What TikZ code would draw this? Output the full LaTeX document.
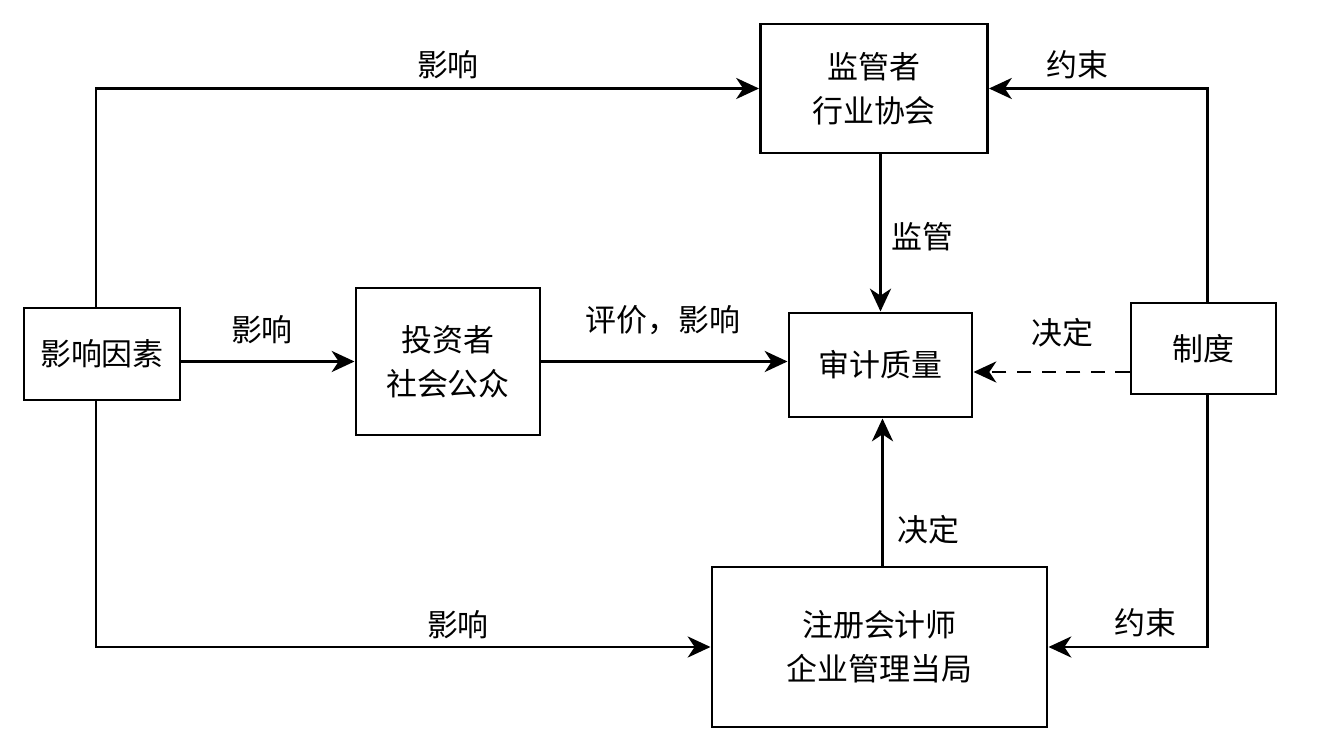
\documentclass[tikz,border=0pt]{standalone}
\usepackage{fontspec}
\setmainfont{Noto Sans CJK SC}
\usetikzlibrary{arrows.meta,positioning}

\tikzset{
  block/.style={draw, line width=0.85pt, align=center, inner sep=0pt,
    font=\fontsize{8.8}{12.5}\selectfont},
  link/.style={line width=0.85pt, -{Stealth[length=6.5pt,width=6pt,inset=2pt]}},
  lbl/.style={font=\fontsize{8.8}{12.5}\selectfont, inner sep=0pt}
}

\begin{document}
\begin{tikzpicture}
    \useasboundingbox (0,0) rectangle (13.41,7.5);
    % boxes
    \node[block, minimum width=1.56cm, minimum height=0.92cm] (yinsu) at (1.02,3.96) {影响因素};
    \node[block, minimum width=1.84cm, minimum height=1.47cm] (touzi) at (4.48,3.885) {投资者\\社会公众};
    \node[block, minimum width=2.27cm, minimum height=1.29cm] (jianguan) at (8.74,6.615) {监管者\\行业协会};
    \node[block, minimum width=1.83cm, minimum height=1.04cm] (shenji) at (8.805,3.85) {审计质量};
    \node[block, minimum width=1.45cm, minimum height=0.91cm] (zhidu) at (12.035,4.015) {制度};
    \node[block, minimum width=3.35cm, minimum height=1.60cm] (zhuce) at (8.795,1.03) {注册会计师\\企业管理当局};
    % connectors
    \draw[link] ([xshift=-0.6mm]yinsu.north) |- (jianguan.west);
    \draw[link] (touzi.west -| yinsu.east) -- (touzi.west);
    \draw[link] (touzi.east) -- (touzi.east -| shenji.west);
    \draw[link] (shenji.north |- jianguan.south) -- (shenji.north);
    \draw[link, dash pattern=on 4pt off 3pt] ([yshift=-0.07cm]shenji.east -| zhidu.west) -- ([yshift=-0.07cm]shenji.east);
    \draw[link] ([xshift=0.4mm]zhidu.north) |- (jianguan.east);
    \draw[link] ([xshift=0.4mm]zhidu.south) |- (zhuce.east);
    \draw[link] ([xshift=0.2mm]shenji.south |- zhuce.north) -- ([xshift=0.2mm]shenji.south);
    \draw[link] ([xshift=-0.6mm]yinsu.south) |- (zhuce.west);
    % labels
    \node[lbl] (l1) at (4.48,6.85) {影响};
    \node[lbl] (l2) at (2.62,4.20) {影响};
    \node[lbl] (l3) at (6.63,4.30) {评价，影响};
    \node[lbl] (l4) at (9.22,5.13) {监管};
    \node[lbl] (l5) at (10.62,4.17) {决定};
    \node[lbl] (l6) at (10.77,6.85) {约束};
    \node[lbl] (l7) at (11.45,1.27) {约束};
    \node[lbl] (l8) at (9.28,2.20) {决定};
    \node[lbl] (l9) at (4.58,1.25) {影响};
\end{tikzpicture}
\end{document}
